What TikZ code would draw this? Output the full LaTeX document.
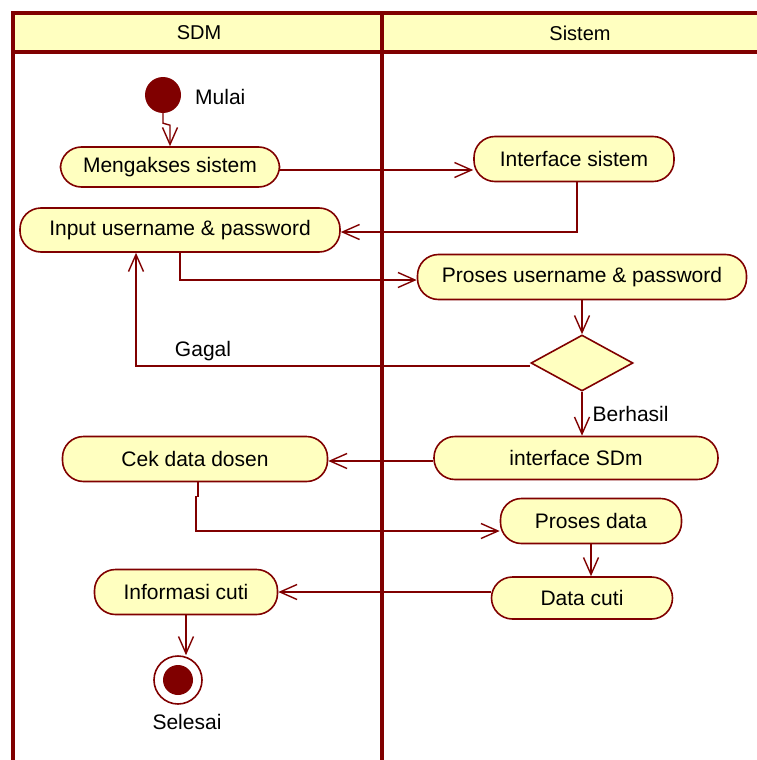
\documentclass[tikz,border=0pt]{standalone}
\usepackage{fontspec}
\setmainfont{Liberation Sans}
\usetikzlibrary{arrows.meta,shapes.geometric}
\definecolor{umlred}{HTML}{800000}
\definecolor{umlyellow}{HTML}{FFFFC0}

\begin{document}
\begin{tikzpicture}[x=1pt,y=-1pt,
    lane/.style={draw=umlred,line width=4pt},
    act/.style={draw=umlred,fill=umlyellow,line width=1.6pt,rounded corners=21pt,
      inner sep=0pt,font=\fontsize{21}{24}\selectfont},
    flow/.style={draw=umlred,line width=1.4pt,
      -{Straight Barb[length=17pt,width=15pt,line width=1.4pt]}},
    lbl/.style={font=\fontsize{21}{24}\selectfont,inner sep=2pt}]
  \useasboundingbox (0,0) rectangle (756,760);
  % swimlanes
  \fill[umlyellow] (13,13) rectangle (758,52);
  \draw[lane] (13,762) -- (13,13) -- (760,13);
  \draw[lane] (13,52) -- (760,52);
  \draw[lane] (382,13) -- (382,762);
  \node[lbl,font=\fontsize{20}{24}\selectfont] (sdm) at (199,33) {SDM};
  \node[lbl,font=\fontsize{20}{24}\selectfont] (sistem) at (580,33) {Sistem};
  % nodes
  \draw
    (163,95) node[circle,fill=umlred,minimum size=36pt,inner sep=0pt] (start){}
    (193,97) node[lbl,anchor=west] (mulai){Mulai}
    (170,167) node[act,minimum width=219pt,minimum height=40pt] (akses){Mengakses sistem}
    (180,230) node[act,minimum width=320pt,minimum height=44pt] (input){Input username \& password}
    (574,159) node[act,minimum width=200pt,minimum height=45pt] (iface){Interface sistem}
    (582,277) node[act,minimum width=329pt,minimum height=45pt] (proses){Proses username \& password}
    (582,363) node[diamond,draw=umlred,fill=umlyellow,line width=1.6pt,inner sep=0pt,
      minimum width=102pt,minimum height=56pt] (cek){}
    (576,458) node[act,minimum width=284pt,minimum height=43pt] (ifsdm){interface SDm}
    (195,459) node[act,minimum width=265pt,minimum height=45pt] (dosen){Cek data dosen}
    (591,521) node[act,minimum width=181pt,minimum height=45pt] (prosesdata){Proses data}
    (582,598) node[act,minimum width=181pt,minimum height=42pt] (datacuti){Data cuti}
    (186,592) node[act,minimum width=183pt,minimum height=45pt] (info){Informasi cuti}
    (178,680) node[circle,draw=umlred,fill=white,line width=1.6pt,minimum size=48pt,inner sep=0pt] (selesai){}
    (178,680) node[circle,fill=umlred,minimum size=30pt,inner sep=0pt] (selesaidot){}
    (187,722) node[lbl] (selesailbl){Selesai};
  % connectors
  \draw[flow] (start.south) -- ++(0,10) -- ++(7,2) -- (akses.north);
  \draw[flow] ([yshift=-3pt]akses.east) -- ([yshift=-3pt]akses.east -| iface.west);
  \draw[flow] ([xshift=3pt]iface.south) |- ([yshift=-2pt]input.east);
  \draw[flow] (input.south) |- ([yshift=-3pt]proses.west);
  \draw[flow] (proses.south) -- (cek.north);
  \draw[flow] ([yshift=-3pt]cek.west) -- node[lbl,pos=0.83,above,yshift=2pt] {Gagal}
    ([xshift=-44pt,yshift=-3pt]input.south |- cek.west) -- ([xshift=-44pt]input.south);
  \draw[flow] (cek.south) -- node[lbl,right,xshift=8pt] {Berhasil} (cek.south |- ifsdm.north);
  \draw[flow] ([yshift=-3pt]ifsdm.west) -- ([yshift=-3pt]ifsdm.west -| dosen.east);
  \draw[flow] ([xshift=3pt]dosen.south) -- ++(0,14) -- ++(-2,0) |- ([yshift=-10pt]prosesdata.west);
  \draw[flow] (prosesdata.south) -- (prosesdata.south |- datacuti.north);
  \draw[flow] (datacuti.west |- info.east) -- (info.east);
  \draw[flow] (info.south) -- (info.south |- selesai.north);
\end{tikzpicture}
\end{document}
